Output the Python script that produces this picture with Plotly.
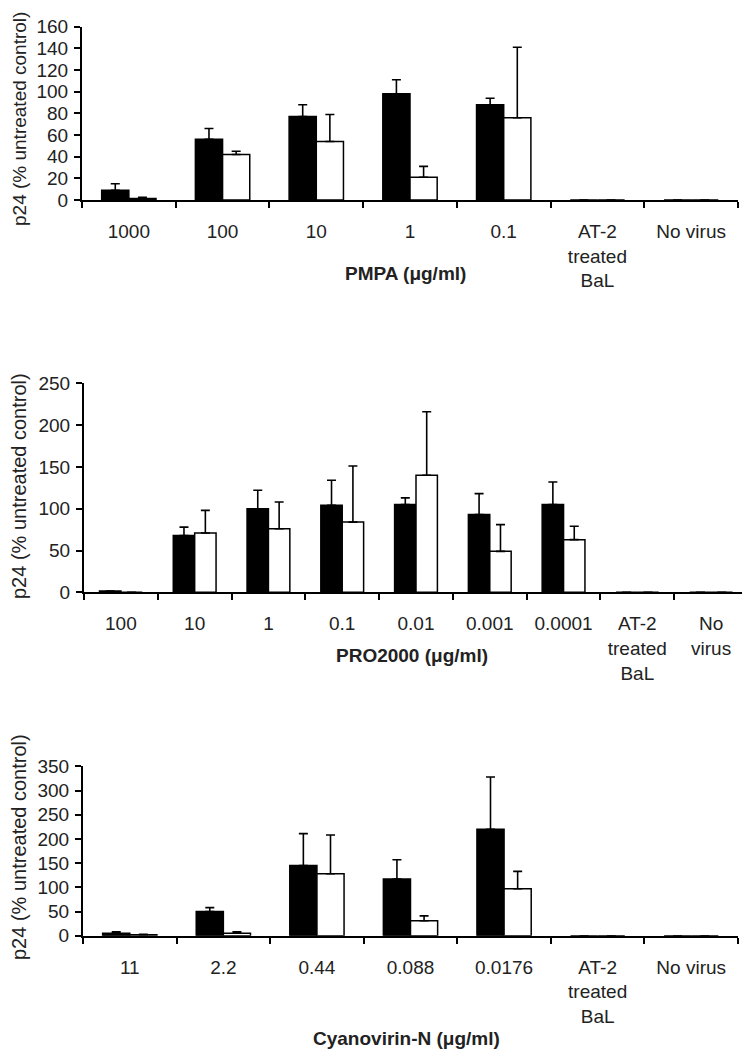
import plotly.graph_objects as go

# ---------------- data ----------------
pmpa_cats = ["1000", "100", "10", "1", "0.1", "AT-2<br>treated<br>BaL", "No virus"]
pmpa_black = [9, 56, 77, 98, 88, 0, 0]
pmpa_black_err = [6, 10, 11, 13, 6, 0, 0]
pmpa_white = [1.5, 42, 54, 21, 76, 0, 0]
pmpa_white_err = [1, 3, 25, 10, 65, 0, 0]

pro_cats = ["100", "10", "1", "0.1", "0.01", "0.001", "0.0001", "AT-2<br>treated<br>BaL", "No<br>virus"]
pro_black = [1.5, 68, 100, 104, 105, 93, 105, 0, 0]
pro_black_err = [0, 10, 22, 30, 8, 25, 27, 0, 0]
pro_white = [0, 71, 76, 84, 140, 49, 63, 0, 0]
pro_white_err = [0, 27, 32, 67, 76, 32, 16, 0, 0]

cv_cats = ["11", "2.2", "0.44", "0.088", "0.0176", "AT-2<br>treated<br>BaL", "No virus"]
cv_black = [5, 50, 145, 117, 220, 0, 0]
cv_black_err = [3, 8, 66, 40, 108, 0, 0]
cv_white = [2, 5, 128, 31, 97, 0, 0]
cv_white_err = [1, 3, 80, 10, 36, 0, 0]

y_title = "p24 (% untreated control)"
x_titles = ["PMPA (μg/ml)", "PRO2000 (μg/ml)", "Cyanovirin-N (μg/ml)"]
y_ranges = [(0, 160, 20), (0, 250, 50), (0, 350, 50)]

# ---------------- layout geometry (pixels in the final page) ----------------
W, H = 750, 1050
OFF = 8  # default page body margin shifts the figure by this many pixels
panels = [
    dict(x0=82, x1=738, ytop=26.7, ybot=200.0, title_y=273, ytitle_c=119, ytitle_size=19),
    dict(x0=84, x1=748, ytop=383.3, ybot=592.3, title_y=655, ytitle_c=486, ytitle_size=20),
    dict(x0=83, x1=738, ytop=766.3, ybot=935.7, title_y=1038, ytitle_c=847, ytitle_size=20),
]


def fx(px):
    return (px - OFF) / W


def fy(py):
    return 1 - (py - OFF) / H


FONT = "Liberation Sans, Arial, sans-serif"
fig = go.Figure()

datasets = [
    (pmpa_cats, pmpa_black, pmpa_black_err, pmpa_white, pmpa_white_err),
    (pro_cats, pro_black, pro_black_err, pro_white, pro_white_err),
    (cv_cats, cv_black, cv_black_err, cv_white, cv_white_err),
]

layout_axes = {}
annotations = []
for i, (cats, b, be, w, we) in enumerate(datasets):
    n = i + 1
    xa = "x" if n == 1 else f"x{n}"
    ya = "y" if n == 1 else f"y{n}"
    for vals, errs, color, name in [(b, be, "black", "Series A"), (w, we, "white", "Series B")]:
        fig.add_trace(go.Bar(
            x=cats, y=vals, name=name, xaxis=xa, yaxis=ya, showlegend=False,
            marker=dict(color=color, line=dict(color="black", width=1.5)),
            error_y=dict(type="data", array=errs, arrayminus=[0] * len(errs),
                         symmetric=False, color="black", thickness=1.6, width=4.5),
        ))
    p = panels[i]
    xkey = "xaxis" if n == 1 else f"xaxis{n}"
    ykey = "yaxis" if n == 1 else f"yaxis{n}"
    layout_axes[xkey] = dict(
        domain=[fx(p["x0"]), fx(p["x1"])], anchor=ya, type="category",
        categoryorder="array", categoryarray=cats, automargin=False,
        showline=True, linecolor="black", linewidth=2,
        ticks="outside", ticklen=6, tickwidth=1.5, tickcolor="black",
        tickson="boundaries", showgrid=False, zeroline=False,
        ticklabelstandoff=13,
        tickfont=dict(family=FONT, size=19, color="#222"),
        fixedrange=True,
    )
    lo, hi, dt = y_ranges[i]
    layout_axes[ykey] = dict(
        domain=[fy(p["ybot"]), fy(p["ytop"])], anchor=xa,
        range=[lo, hi], dtick=dt, tick0=0, automargin=False,
        showline=True, linecolor="black", linewidth=2,
        ticks="outside", ticklen=6, tickwidth=1.5, tickcolor="black",
        showgrid=False, zeroline=False, ticklabelstandoff=2,
        tickfont=dict(family=FONT, size=19, color="#222"),
    )
    annotations.append(dict(
        text=f"<b>{x_titles[i]}</b>", xref="paper", yref="paper",
        x=fx((p["x0"] + p["x1"]) / 2 - 4), y=fy(p["title_y"]),
        xanchor="center", yanchor="middle", showarrow=False,
        font=dict(family=FONT, size=19, color="#222"),
    ))
    annotations.append(dict(
        text=y_title, xref="paper", yref="paper", textangle=-90,
        x=fx(19), y=fy(p["ytitle_c"]),
        xanchor="center", yanchor="middle", showarrow=False, borderpad=0,
        font=dict(family=FONT, size=p["ytitle_size"], color="#222"),
    ))

fig.update_layout(
    width=W, height=H, margin=dict(l=0, r=0, t=0, b=0, autoexpand=False),
    paper_bgcolor="white", plot_bgcolor="white",
    barmode="group", bargap=0.42, bargroupgap=0,
    annotations=annotations,
    **layout_axes,
)

fig.write_html("out.html")
